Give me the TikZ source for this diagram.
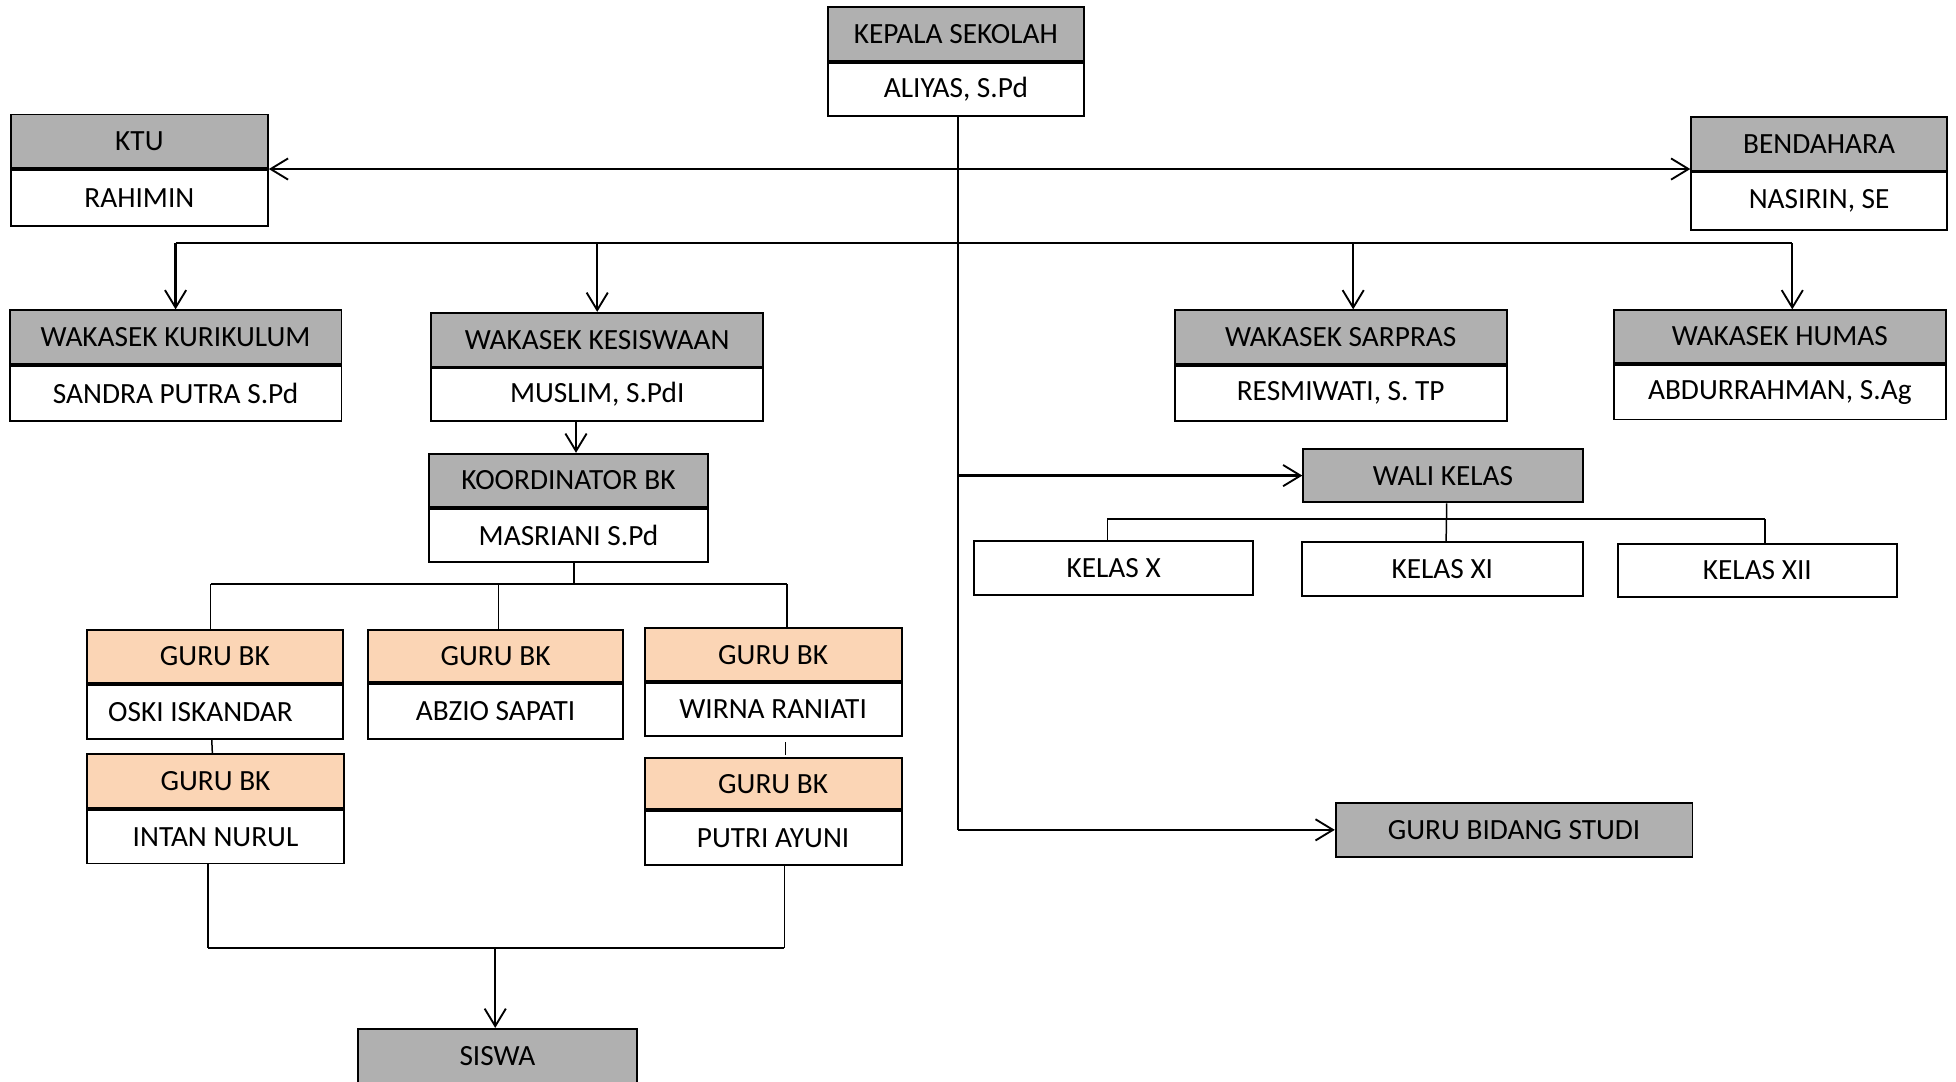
\documentclass[tikz,border=0pt]{standalone}
\usepackage{fontspec}
\setmainfont{Carlito}
\usetikzlibrary{arrows.meta}
\definecolor{hdrgray}{RGB}{176,176,176}
\definecolor{peach}{RGB}{251,213,181}
\tikzset{
 box/.style={draw=black, line width=1.5pt, anchor=north west, inner sep=0pt, font=\fontsize{23.5}{27}\selectfont, text=black},
 hdr/.style={box, fill=hdrgray},
 pch/.style={box, fill=peach},
 low/.style={box, fill=white},
 conn/.style={line width=1.8pt},
 thinc/.style={line width=1.2pt},
 arr/.style={conn, -{Straight Barb[length=14pt,width=17pt,line width=1.5pt]}},
 darr/.style={conn, {Straight Barb[length=14pt,width=17pt,line width=1.5pt]}-{Straight Barb[length=14pt,width=17pt,line width=1.5pt]}},
}
\newcommand\tb[9]{%
 \node[#7, minimum width=#4pt, minimum height=#5pt] (#1) at (#2,#3) {#8};
 \node[low, minimum width=#4pt, minimum height=#6pt] (#1l) at (#1.south west) {#9};
}
\begin{document}
\begin{tikzpicture}[x=1pt,y=-1pt]
\useasboundingbox[fill=white] (0,0) rectangle (1568,866.6);
% two-part boxes
\tb{kep}{663}{5}{205}{43}{43}{hdr}{KEPALA SEKOLAH}{ALIYAS, S.Pd}
\tb{ktu}{8}{91}{206}{43}{45}{hdr}{KTU}{RAHIMIN}
\tb{ben}{1355}{93}{205}{43}{46}{hdr}{BENDAHARA}{NASIRIN, SE}
\tb{kur}{7}{248}{266}{43}{44}{hdr}{WAKASEK KURIKULUM}{SANDRA PUTRA S.Pd}
\tb{kes}{345}{250}{266}{43}{42}{hdr}{WAKASEK KESISWAAN}{MUSLIM, S.PdI}
\tb{sar}{941}{248}{266}{43}{44}{hdr}{WAKASEK SARPRAS}{RESMIWATI, S. TP}
\tb{hum}{1293}{248}{266}{42}{44}{hdr}{WAKASEK HUMAS}{ABDURRAHMAN, S.Ag}
\tb{kor}{343}{363}{224}{43}{42}{hdr}{KOORDINATOR BK}{MASRIANI S.Pd}
\tb{ga}{69}{504}{205}{43}{43}{pch}{GURU BK}{OSKI ISKANDAR\hspace*{23pt}}
\tb{gb}{294}{504}{205}{42}{44}{pch}{GURU BK}{ABZIO SAPATI}
\tb{gc}{516}{503}{206}{42}{43}{pch}{GURU BK}{WIRNA RANIATI}
\tb{gd}{69}{604}{206}{43}{43}{pch}{GURU BK}{INTAN NURUL}
\tb{ge}{516}{607}{206}{41}{43}{pch}{GURU BK}{PUTRI AYUNI}
% single boxes
\node[hdr, minimum width=224pt, minimum height=43pt] (wali) at (1044,359) {WALI KELAS};
\node[low, minimum width=224pt, minimum height=43pt] (kx) at (780,433) {KELAS X};
\node[low, minimum width=225pt, minimum height=43pt] (kxi) at (1043,434) {KELAS XI};
\node[low, minimum width=224pt, minimum height=43pt] (kxii) at (1296,435) {KELAS XII};
\node[hdr, minimum width=286pt, minimum height=43pt] (gbs) at (1070,643) {GURU BIDANG STUDI};
\node[hdr, minimum width=224pt, minimum height=43pt] (sis) at (286,824) {SISWA};
% main trunk
\coordinate (mv) at ([xshift=1.5pt]kepl.south |- gbs.west);
\draw[conn] ([xshift=1.5pt]kepl.south) -- (mv);
\draw[arr] (mv) -- (gbs.west);
\draw[arr] ([xshift=1.5pt]kepl.south |- wali.west) -- (wali.west);
% KTU / BENDAHARA
\draw[darr] (ktu.south east) -- (ktu.south east -| ben.west);
% wakasek bus
\coordinate (bus) at (0,195);
\draw[conn] (kur.north |- bus) -- ([xshift=10pt]hum.north |- bus);
\draw[arr] (kur.north |- bus) -- (kur.north);
\draw[arr] (kes.north |- bus) -- (kes.north);
\draw[arr] ([xshift=10pt]sar.north |- bus) -- ([xshift=10pt]sar.north);
\draw[arr] ([xshift=10pt]hum.north |- bus) -- ([xshift=10pt]hum.north);
% kesiswaan -> koordinator
\draw[arr] ([xshift=6pt]kor.north |- kesl.south) -- ([xshift=6pt]kor.north);
% koordinator subtree
\coordinate (kb) at (460,468);
\draw[thinc] (korl.south -| kb) -- (kb);
\draw[conn] ([xshift=-3.5pt]ga.north |- kb) -- ([xshift=11pt]gc.north |- kb);
\draw[thinc] ([xshift=-3.5pt]ga.north |- kb) -- ([xshift=-3.5pt]ga.north);
\draw[thinc] ([xshift=2.5pt]gb.north |- kb) -- ([xshift=2.5pt]gb.north);
\draw[thinc] ([xshift=11pt]gc.north |- kb) -- ([xshift=11pt]gc.north);
\draw[thinc] ([xshift=-2.5pt]gal.south) -- ([xshift=-2.5pt]gd.north);
\draw[thinc] ([xshift=10pt,yshift=-4pt]gcl.south) -- ([xshift=10pt,yshift=2pt]ge.north);
% to siswa
\coordinate (sb) at (397,760);
\draw[thinc] ([xshift=-6pt]gdl.south) -- ([xshift=-6pt]gdl.south |- sb);
\draw[thinc] ([xshift=9pt]gel.south) -- ([xshift=9pt]gel.south |- sb);
\draw[conn] ([xshift=-6pt]gdl.south |- sb) -- ([xshift=9pt]gel.south |- sb);
\draw[arr] (sb) -- (sb |- sis.north);
% wali kelas subtree
\coordinate (wb) at (1159,416);
\draw[thinc] ([xshift=3pt]wali.south) -- ([xshift=3pt]kxi.north);
\draw[conn] ([xshift=-5pt]kx.north |- wb) -- ([xshift=6pt]kxii.north |- wb);
\draw[thinc] ([xshift=-5pt]kx.north |- wb) -- ([xshift=-5pt]kx.north);
\draw[thinc] ([xshift=6pt]kxii.north |- wb) -- ([xshift=6pt]kxii.north);
\end{tikzpicture}
\end{document}
